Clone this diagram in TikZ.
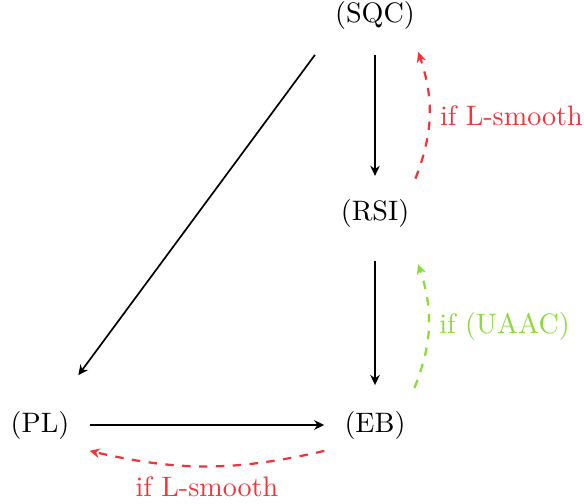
\documentclass[tikz,border=0pt]{standalone}
\usepackage{amsmath,amssymb}
\usepackage{xcolor}
\usepackage{tikz}
\usetikzlibrary{arrows.meta, positioning, calc}
\definecolor{condred}{RGB}{240,52,58}
\definecolor{condgreen}{RGB}{140,218,60}
\tikzset{
  % Implication diagram styles
  claim/.style={inner xsep=7pt, inner ysep=9pt, font=\normalsize},
  arrow/.style={-{Stealth[length=3.6pt, width=3.4pt]}, semithick},
  condarrow/.style={-{Stealth[length=3.6pt, width=3.4pt]}, thick, dashed, draw=#1, text=#1},
  condarrow/.default={condred},
}
\begin{document}
\begin{tikzpicture}[x=0.0125cm, y=-0.0125cm]
    % Frame: 584 x 504 units
    \useasboundingbox (0,0) rectangle (584,504);
    % Claims
    \node[claim] (sqc) at (375,15) {(SQC)};
    \node[claim] (rsi) at (375,213) {(RSI)};
    \node[claim] (pl)  at (40,425)  {(PL)};
    \node[claim] (eb)  at (375,425) {(EB)};
    % Implications
    \draw[arrow] (sqc) -- ([yshift=-1pt]rsi.north);
    \draw[arrow] ([yshift=-3pt]rsi.south) -- (eb);
    \draw[arrow] (sqc.south west) -- ([xshift=-4pt,yshift=3.5pt]pl.north east);
    \draw[arrow] (pl) -- (eb);
    % Converse implications under extra conditions
    \draw[condarrow] ([xshift=-5pt,yshift=-2pt]rsi.north east) to[bend right=20]
      node[right] {if L-smooth} ([xshift=-6pt,yshift=1pt]sqc.south east);
    \draw[condarrow=condgreen] ([xshift=-4pt,yshift=-1pt]eb.north east) to[bend right=20]
      node[right] {if (UAAC)} ([xshift=-4pt,yshift=-4pt]rsi.south east);
    \draw[condarrow] ([yshift=5pt]eb.south west) to[bend left=13]
      node[below] {if L-smooth} ([yshift=5pt]pl.south east);
  \end{tikzpicture}
\end{document}
